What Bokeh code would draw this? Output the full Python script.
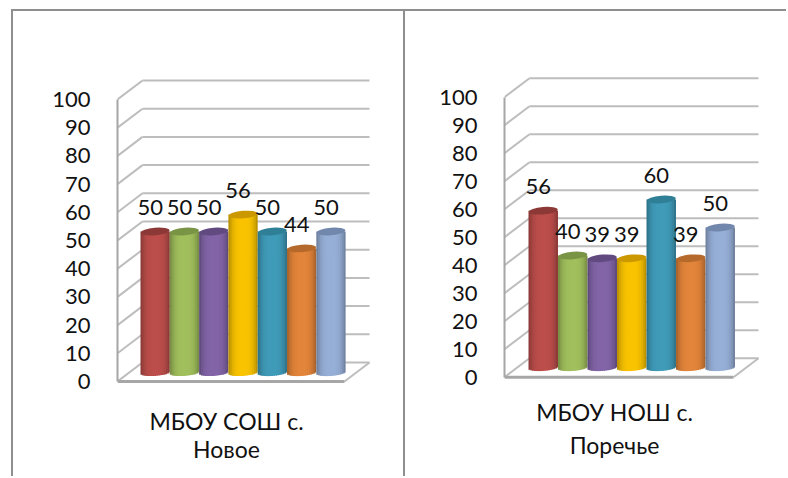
import math
from bokeh.plotting import figure
from bokeh.layouts import row
from bokeh.models import FixedTicker, LinearAxis, Range1d
from bokeh.core.properties import value
from bokeh.embed import file_html
from bokeh.resources import INLINE

left_values = [50, 50, 50, 56, 50, 44, 50]
right_values = [56, 40, 39, 39, 60, 39, 50]
left_category = ["МБОУ СОШ с.", "Новое"]
right_category = ["МБОУ НОШ с.", "Поречье"]
value_ticks = [0, 10, 20, 30, 40, 50, 60, 70, 80, 90, 100]
body_colors = ["#C0504D", "#A5C45F", "#8567AB", "#FFC800", "#419FBD", "#E8883C", "#9AB3DC"]
cap_colors = ["#8C3836", "#7A9446", "#604A80", "#CB9800", "#2F7F96", "#B56A2C", "#7287AC"]

FONT = "Lato"
GRID = "#BDBDBD"
AXIS = "#A6A6A6"
FRAME = "#8F8F8F"
FIG_TOP = 11
TOTAL_H = 467


def shade(hex_color, k):
    r, g, b = (int(hex_color[i:i + 2], 16) for i in (1, 3, 5))
    return "#%02x%02x%02x" % (min(255, int(r * k)), min(255, int(g * k)), min(255, int(b * k)))


def panel(values, category, width, fig_left, margin, shadow, axis_px, zero_px, unit_px, slot_px, bars_px,
          floor_w_px, base_px, cat_x_px, cat_y_px):
    border = axis_px - fig_left
    frame_w = width - border
    x0 = -(bars_px - axis_px) / slot_px
    x1 = x0 + frame_w / slot_px
    y1 = (zero_px - FIG_TOP) / unit_px
    y0 = (zero_px - FIG_TOP - TOTAL_H) / unit_px
    p = figure(width=width, height=TOTAL_H, output_backend="svg", toolbar_location=None,
               x_range=Range1d(x0, x1), y_range=Range1d(y0, y1), margin=margin,
               min_border_left=border, min_border_right=0, min_border_top=0, min_border_bottom=0,
               x_axis_type=None, y_axis_type=None, outline_line_color=None,
               styles={"box-shadow": shadow})
    p.grid.visible = False

    ax = LinearAxis(ticker=FixedTicker(ticks=value_ticks), bounds=(0, 100))
    ax.major_tick_line_color = None
    ax.minor_tick_line_color = None
    ax.major_label_standoff = 21
    ax.major_label_text_font = FONT
    ax.major_label_text_font_size = "22px"
    ax.major_label_text_color = "#111111"
    ax.axis_line_color = AXIS
    ax.axis_line_width = 2
    p.add_layout(ax, "left")

    # depth of the 3D box, in data units
    dx = 25 / slot_px
    dy = 19 / unit_px
    ax0 = x0
    floor_w = floor_w_px / slot_px
    # walls and gridlines
    for t in value_ticks:
        p.line([ax0, ax0 + dx], [t, t + dy], line_color=GRID, line_width=2)
        p.line([ax0 + dx, ax0 + dx + floor_w], [t + dy, t + dy], line_color=GRID, line_width=2)
    # floor
    p.line([ax0 + floor_w, ax0 + floor_w + dx], [0, dy], line_color=GRID, line_width=2)
    p.line([ax0, ax0 + floor_w], [0, 0], line_color=AXIS, line_width=3)

    # cylinders
    base = (zero_px - base_px) / unit_px
    cap_h = 3.4 / unit_px
    tilt = 1.2 / unit_px
    n = 16
    for i, v in enumerate(values):
        c = body_colors[i]
        for s in range(n):
            u0 = s / n
            u1 = (s + 1) / n
            mid = (u0 + u1) / 2
            d = abs(2 * mid - 1)
            k = 0.98 - 0.30 * d ** 3.2
            arc = math.sqrt(max(0.0, 1 - (2 * mid - 1) ** 2))
            col = shade(c, k)
            right = i + u1 + (0.03 if s < n - 1 else 0)
            p.quad(left=i + u0, right=right, bottom=base - cap_h * arc + tilt * (2 * mid - 1), top=base + v,
                   fill_color=col, line_color=None)
        p.ellipse(x=i + 0.5, y=base + v, width=slot_px - 0.5, height=7.5, width_units="screen",
                  height_units="screen", angle=0.08,
                  fill_color=cap_colors[i], line_color=None)
        p.text(x=[i + 0.5], y=[base + v], text=[str(v)], x_offset=-5, y_offset=-24,
               text_align="center", text_baseline="middle",
               text_font=value(FONT), text_font_size="22px", text_color="#111111")

    # category label
    for line, y_px in zip(category, cat_y_px):
        p.text(x=[x0 + (cat_x_px - axis_px) / slot_px], y=[(zero_px - y_px) / unit_px], text=[line],
               text_align="center", text_baseline="middle",
               text_font=value(FONT), text_font_size="23px", text_color="#111111")
    return p


p1 = panel(left_values, left_category, 392, 13, (FIG_TOP, 0, 0, 13), f"-2px -2px 0 0 {FRAME}",
           117, 381, 2.82, 29.3, 140, 227, 372, 226, (420, 448))
p2 = panel(right_values, right_category, 383, 405, (FIG_TOP, 0, 0, 0), f"-2px -2px 0 0 {FRAME}",
           504, 376.7, 2.8, 29.5, 528, 229, 367, 614, (411, 444))
layout = row(p1, p2, spacing=0)
open("out.html", "w").write(file_html(layout, INLINE))
